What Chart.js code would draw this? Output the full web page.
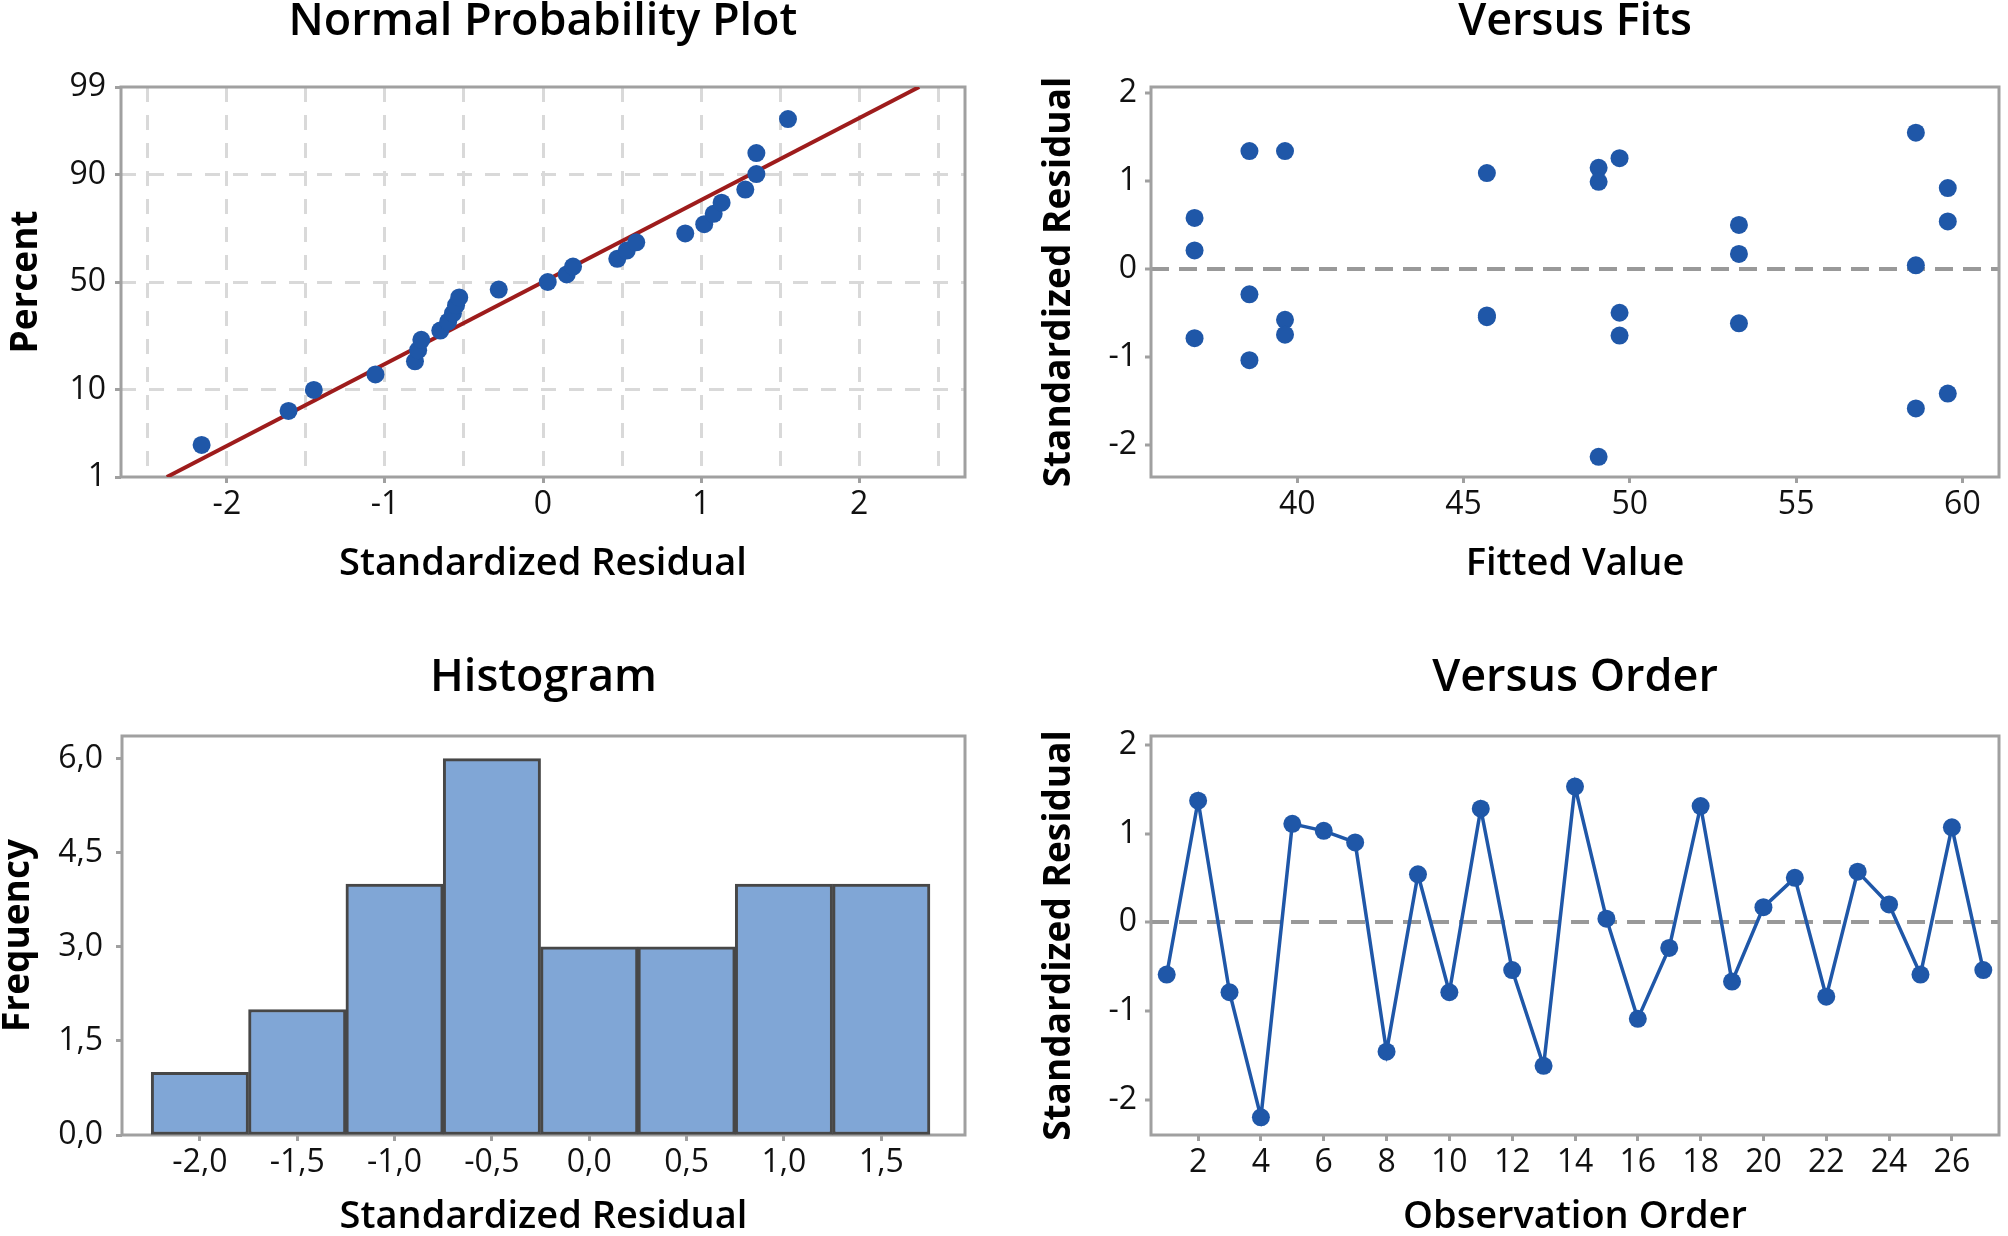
<!DOCTYPE html>
<html>
<head>
<meta charset="utf-8">
<title>Residual Plots</title>
<script src="https://cdn.jsdelivr.net/npm/chart.js@4.4.1/dist/chart.umd.min.js"></script>
<style>
  html, body { margin: 0; padding: 0; background: #fff; overflow: hidden; }
  #wrap { position: relative; width: 2008px; height: 1236px; }
  .cell { position: absolute; width: 1004px; height: 618px; }
</style>
</head>
<body>
<div id="wrap">
  <div class="cell" style="left:0;top:0"><canvas id="normChart"></canvas></div>
  <div class="cell" style="left:1004px;top:0"><canvas id="fitsChart"></canvas></div>
  <div class="cell" style="left:0;top:618px"><canvas id="histChart"></canvas></div>
  <div class="cell" style="left:1004px;top:618px"><canvas id="orderChart"></canvas></div>
</div>
<script>
// Normal probability plot
const normResid = [-2.16, -1.61, -1.45, -1.06, -0.81, -0.79, -0.77, -0.65, -0.60, -0.57, -0.55, -0.53, -0.28, 0.03,
                   0.15, 0.19, 0.47, 0.53, 0.59, 0.90, 1.02, 1.08, 1.13, 1.28, 1.35, 1.35, 1.55];
const normPercent = [2.6, 6.2, 9.9, 13.5, 17.2, 20.8, 24.5, 28.1, 31.8, 35.4, 39.1, 42.7, 46.4, 50.0,
                     53.6, 57.3, 60.9, 64.6, 68.2, 71.9, 75.5, 79.2, 82.8, 86.5, 90.1, 93.8, 97.4];
const fitLineResid = [-2.38, 2.38];
const fitLinePercent = [1, 99];
const percentTicks = [1, 10, 50, 90, 99];
const normXTicks = [-2.5, -2, -1.5, -1, -0.5, 0, 0.5, 1, 1.5, 2, 2.5];

// Versus fits
const fittedValues = [36.91, 36.91, 36.91, 38.56, 38.56, 38.56, 39.63, 39.63, 39.63, 45.70, 45.70, 45.70, 49.06, 49.06,
                      49.06, 49.69, 49.69, 49.69, 53.28, 53.28, 53.28, 58.60, 58.60, 58.60, 59.56, 59.56, 59.56];
const fitResiduals = [0.58, 0.21, -0.79, 1.34, -0.29, -1.04, 1.34, -0.58, -0.75, 1.09, -0.55, -0.53, 1.15, 0.99,
                      -2.14, 1.26, -0.50, -0.76, 0.50, 0.17, -0.62, 1.55, 0.04, -1.59, 0.92, 0.54, -1.42];
const fitXTicks = [40, 45, 50, 55, 60];

// Histogram
const binCenters = [-2.0, -1.5, -1.0, -0.5, 0.0, 0.5, 1.0, 1.5];
const binCounts = [1, 2, 4, 6, 3, 3, 4, 4];
const freqTicks = [0, 1.5, 3, 4.5, 6];

// Versus order
const orderResiduals = [-0.59, 1.37, -0.79, -2.20, 1.11, 1.03, 0.90, -1.46, 0.54, -0.79, 1.28, -0.54, -1.62, 1.53,
                        0.04, -1.09, -0.29, 1.31, -0.67, 0.17, 0.50, -0.84, 0.57, 0.20, -0.59, 1.07, -0.54];
const orderTicks = [2, 4, 6, 8, 10, 12, 14, 16, 18, 20, 22, 24, 26];
const residTicks = [-2, -1, 0, 1, 2];

const BLUE = '#1f57a8';
const FRAME = '#a0a0a0';
const NONE = 'rgba(0,0,0,0)';
const tickFont = { family: 'Open Sans', size: 32 };
const plotTitleFont = { family: 'Open Sans', size: 45, weight: '600', lineHeight: 1 };
const xTitleFont = { family: 'Open Sans', size: 38, weight: '600', lineHeight: 1 };
const yTitleFont = { family: 'Open Sans', size: 37, weight: '700', lineHeight: 1 };

// inverse normal cdf (Acklam) - maps percent to the probability scale
function probit(p) {
  const a = [-3.969683028665376e+01, 2.209460984245205e+02, -2.759285104469687e+02, 1.383577518672690e+02, -3.066479806614716e+01, 2.506628277459239e+00];
  const b = [-5.447609879822406e+01, 1.615858368580409e+02, -1.556989798598866e+02, 6.680131188771972e+01, -1.328068155288572e+01];
  const c = [-7.784894002430293e-03, -3.223964580411365e-01, -2.400758277161838e+00, -2.549732539343734e+00, 4.374664141464968e+00, 2.938163982698783e+00];
  const d = [7.784695709041462e-03, 3.224671290700398e-01, 2.445134137142996e+00, 3.754408661907416e+00];
  const lo = 0.02425;
  let q, r;
  if (p < lo) {
    q = Math.sqrt(-2 * Math.log(p));
    return (((((c[0]*q + c[1])*q + c[2])*q + c[3])*q + c[4])*q + c[5]) / ((((d[0]*q + d[1])*q + d[2])*q + d[3])*q + 1);
  }
  if (p > 1 - lo) {
    q = Math.sqrt(-2 * Math.log(1 - p));
    return -(((((c[0]*q + c[1])*q + c[2])*q + c[3])*q + c[4])*q + c[5]) / ((((d[0]*q + d[1])*q + d[2])*q + d[3])*q + 1);
  }
  q = p - 0.5;
  r = q * q;
  return (((((a[0]*r + a[1])*r + a[2])*r + a[3])*r + a[4])*r + a[5])*q / (((((b[0]*r + b[1])*r + b[2])*r + b[3])*r + b[4])*r + 1);
}

const framePlugin = {
  id: 'frame',
  beforeDatasetsDraw(chart) {
    const { ctx, chartArea: a } = chart;
    ctx.save();
    ctx.strokeStyle = FRAME;
    ctx.lineWidth = 3;
    ctx.strokeRect(a.left, a.top, a.right - a.left, a.bottom - a.top);
    ctx.restore();
  }
};

function axis(o) {
  return {
    type: 'linear',
    min: o.min,
    max: o.max,
    offset: false,
    afterBuildTicks: s => { s.ticks = o.ticks.map(v => ({ value: v })); },
    afterFit: s => {
      if (o.width) s.width = o.width;
      if (o.height) s.height = o.height;
    },
    ticks: { autoSkip: false, maxRotation: 0, padding: o.tickPad, color: '#111', font: tickFont, callback: o.label },
    grid: {
      offset: false,
      drawOnChartArea: !!o.gridColor,
      color: o.gridColor || FRAME,
      lineWidth: o.gridWidth || 1,
      tickColor: o.tickColor || FRAME,
      tickLength: 6,
      tickWidth: 3
    },
    border: { display: false, dash: o.dash || [] },
    title: { display: true, text: o.title, color: '#000', font: o.titleFont, padding: o.titlePad }
  };
}

function baseOptions(title, titlePad, scales) {
  return {
    responsive: true,
    maintainAspectRatio: false,
    devicePixelRatio: 1,
    animation: false,
    events: [],
    layout: { padding: { left: 0, top: 0, right: scales.right, bottom: 0 } },
    plugins: {
      legend: { display: false },
      tooltip: { enabled: false },
      title: { display: true, text: title, fullSize: false, color: '#000', font: plotTitleFont, padding: titlePad }
    },
    scales: { x: scales.x, y: scales.y }
  };
}

function build() {
  const pMin = probit(0.01), pMax = probit(0.99);

  new Chart(document.getElementById('normChart'), {
    type: 'scatter',
    data: {
      datasets: [
        {
          data: normResid.map((r, i) => ({ x: r, y: probit(normPercent[i] / 100) })),
          backgroundColor: BLUE, borderWidth: 0, pointRadius: 9
        },
        {
          data: fitLineResid.map((r, i) => ({ x: r, y: probit(fitLinePercent[i] / 100) })),
          showLine: true, borderColor: '#9e1c1c', borderWidth: 4, pointRadius: 0
        }
      ]
    },
    options: baseOptions('Normal Probability Plot', { top: 0, bottom: 42 }, {
      right: 39,
      x: axis({
        min: -2.67, max: 2.67, ticks: normXTicks, height: 141, tickPad: 3,
        label: v => Number.isInteger(v) ? String(v) : '',
        gridColor: '#d9d9d9', gridWidth: 3, dash: [15, 13],
        tickColor: ctx => Number.isInteger(ctx.tick.value) ? FRAME : NONE,
        title: 'Standardized Residual', titleFont: xTitleFont, titlePad: { top: 0, bottom: 35 }
      }),
      y: axis({
        min: pMin, max: pMax, ticks: percentTicks.map(p => probit(p / 100)), width: 121, tickPad: 9,
        label: (v, i) => String(percentTicks[i]),
        gridColor: ctx => (ctx.index === 0 || ctx.index === percentTicks.length - 1) ? NONE : '#d9d9d9',
        gridWidth: 3, dash: [15, 13],
        title: 'Percent', titleFont: yTitleFont, titlePad: { top: 8, bottom: 0 }
      })
    }),
    plugins: [framePlugin]
  });

  new Chart(document.getElementById('fitsChart'), {
    type: 'scatter',
    data: {
      datasets: [{
        data: fittedValues.map((f, i) => ({ x: f, y: fitResiduals[i] })),
        backgroundColor: BLUE, borderWidth: 0, pointRadius: 9
      }]
    },
    options: baseOptions('Versus Fits', { top: 0, bottom: 42 }, {
      right: 3,
      x: axis({
        min: 35.6, max: 61.1, ticks: fitXTicks, height: 141, tickPad: 3,
        label: v => String(v),
        title: 'Fitted Value', titleFont: xTitleFont, titlePad: { top: 0, bottom: 35 }
      }),
      y: axis({
        min: -2.37, max: 2.07, ticks: residTicks, width: 147, tickPad: 8,
        label: v => String(v),
        gridColor: ctx => ctx.tick.value === 0 ? '#999999' : NONE, gridWidth: 4, dash: [18, 10],
        title: 'Standardized Residual', titleFont: yTitleFont, titlePad: { top: 37, bottom: 0 }
      })
    }),
    plugins: [framePlugin]
  });

  new Chart(document.getElementById('histChart'), {
    type: 'bar',
    data: {
      datasets: [{
        data: binCenters.map((c, i) => ({ x: c, y: binCounts[i] })),
        backgroundColor: '#80a6d6', borderColor: '#474747', borderWidth: 3, borderSkipped: false,
        barPercentage: 1, categoryPercentage: 1
      }]
    },
    options: baseOptions('Histogram', { top: 38, bottom: 35 }, {
      right: 39,
      x: axis({
        min: -2.40, max: 1.93, ticks: binCenters, height: 101, tickPad: 3,
        label: v => v.toFixed(1).replace('.', ','),
        title: 'Standardized Residual', titleFont: xTitleFont, titlePad: { top: 0, bottom: 0 }
      }),
      y: axis({
        min: 0, max: 6.36, ticks: freqTicks, width: 122, tickPad: 13,
        label: v => v.toFixed(1).replace('.', ','),
        title: 'Frequency', titleFont: yTitleFont, titlePad: { top: 0, bottom: 0 }
      })
    }),
    plugins: [framePlugin]
  });

  new Chart(document.getElementById('orderChart'), {
    type: 'scatter',
    data: {
      datasets: [{
        data: orderResiduals.map((r, i) => ({ x: i + 1, y: r })),
        showLine: true, borderColor: BLUE, borderWidth: 3.5,
        backgroundColor: BLUE, pointBorderWidth: 0, pointRadius: 9
      }]
    },
    options: baseOptions('Versus Order', { top: 38, bottom: 35 }, {
      right: 3,
      x: axis({
        min: 0.5, max: 27.5, ticks: orderTicks, height: 101, tickPad: 3,
        label: v => String(v),
        title: 'Observation Order', titleFont: xTitleFont, titlePad: { top: 0, bottom: 0 }
      }),
      y: axis({
        min: -2.4, max: 2.1, ticks: residTicks, width: 147, tickPad: 8,
        label: v => String(v),
        gridColor: ctx => ctx.tick.value === 0 ? '#999999' : NONE, gridWidth: 4, dash: [18, 10],
        title: 'Standardized Residual', titleFont: yTitleFont, titlePad: { top: 37, bottom: 0 }
      })
    }),
    plugins: [framePlugin]
  });
}

Promise.all([
  document.fonts.load('32px "Open Sans"'),
  document.fonts.load('600 45px "Open Sans"'),
  document.fonts.load('700 37px "Open Sans"')
]).then(build, build);
</script>
</body>
</html>
